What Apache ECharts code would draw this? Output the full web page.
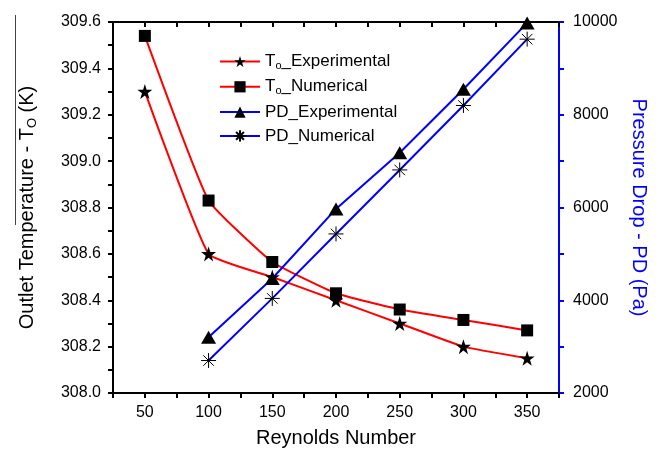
<!DOCTYPE html>
<html><head><meta charset="utf-8">
<script src="https://cdn.jsdelivr.net/npm/echarts@6/dist/echarts.min.js"></script>
<style>html,body{margin:0;padding:0;background:#fff}#c{width:665px;height:453px}</style>
</head><body><div id="c"></div>
<script>
var reynolds = [50, 100, 150, 200, 250, 300, 350];
var toExperimental = [309.30, 308.60, 308.50, 308.40, 308.30, 308.20, 308.15];
var toNumerical = [309.54, 308.83, 308.565, 308.43, 308.36, 308.315, 308.27];
var pdReynolds = [100, 150, 200, 250, 300, 350];
var pdExperimental = [3200, 4470, 5970, 7180, 8550, 9980];
var pdNumerical = [2700, 4040, 5430, 6810, 8200, 9630];
var leftTicks = [308.0, 308.2, 308.4, 308.6, 308.8, 309.0, 309.2, 309.4, 309.6];
var rightTicks = [2000, 4000, 6000, 8000, 10000];
var xLabels = [50, 100, 150, 200, 250, 300, 350];

function pairs(xs, ys){ return xs.map(function(x,i){ return [x, ys[i]]; }); }

var starPath = 'path://M50,0L61.2,34.5L97.6,34.5L68.2,55.9L79.4,90.5L50,69.1L20.6,90.5L31.8,55.9L2.4,34.5L38.8,34.5Z';
var asteriskPath = 'path://M0,-1L0,1M-1,0L1,0M-0.7,-0.7L0.7,0.7M-0.7,0.7L0.7,-0.7';
var FONT = 'Liberation Sans';

var chart = echarts.init(document.getElementById('c'), null, {renderer:'canvas'});
var subRich = {
  a: {fontFamily: FONT, fontSize: 20, color: '#000'},
  s: {fontFamily: FONT, fontSize: 13, color: '#000', padding: [10,0,0,0]}
};
chart.setOption({
  animation: false,
  backgroundColor: '#fff',
  grid: {left: 113, right: 106, top: 22, bottom: 58, containLabel: false},
  legend: {
    orient: 'vertical', left: 219, top: 53, padding: 0,
    itemWidth: 40, itemHeight: 14, itemGap: 6.8,
    textStyle: {fontFamily: FONT, fontSize: 17, color: '#000',
      rich: {t: {fontFamily: FONT, fontSize: 17, color: '#000'},
             s: {fontFamily: FONT, fontSize: 11, color: '#000', padding: [9,0,0,0]}}},
    formatter: function(n){
      if (n === 'To_Experimental') return '{t|T}{s|o}{t|_Experimental}';
      if (n === 'To_Numerical') return '{t|T}{s|o}{t|_Numerical}';
      return n;
    },
    data: ['To_Experimental', 'To_Numerical', 'PD_Experimental', 'PD_Numerical']
  },
  xAxis: [{
    type: 'value', min: 25, max: 375, interval: 25, position: 'bottom',
    name: 'Reynolds Number', nameLocation: 'middle', nameGap: 35,
    nameTextStyle: {fontFamily: FONT, fontSize: 20, color: '#000'},
    axisLine: {show: true, onZero: false, lineStyle: {color: '#000', width: 2}},
    axisTick: {show: true, inside: false, length: 5, lineStyle: {color: '#000', width: 2}},
    axisLabel: {fontFamily: FONT, fontSize: 16, color: '#000', margin: 12,
      formatter: function(v){ return xLabels.indexOf(v) >= 0 ? String(v) : ''; }},
    splitLine: {show: false}
  }, {
    type: 'value', min: 25, max: 375, interval: 25, position: 'top',
    axisLine: {show: true, onZero: false, lineStyle: {color: '#000', width: 2}},
    axisTick: {show: true, inside: true, length: 5, lineStyle: {color: '#000', width: 2}},
    axisLabel: {show: false}, splitLine: {show: false}
  }],
  yAxis: [{
    type: 'value', min: 308.0, max: 309.6, interval: 0.2, position: 'left',
    name: '{a|Outlet Temperature - T}{s|O}{a| (K)}', nameLocation: 'middle', nameGap: 74,
    nameTextStyle: {rich: subRich},
    axisLine: {show: true, onZero: false, lineStyle: {color: '#000', width: 2}},
    axisTick: {show: true, inside: false, length: 5, lineStyle: {color: '#000', width: 2}},
    minorTick: {show: true, splitNumber: 2, length: 5, lineStyle: {color: '#000', width: 2}},
    axisLabel: {fontFamily: FONT, fontSize: 16, color: '#000', margin: 12,
      formatter: function(v){ return v.toFixed(1); }},
    splitLine: {show: false}, minorSplitLine: {show: false}
  }, {
    type: 'value', min: 2000, max: 10000, interval: 2000, position: 'right',
    name: 'Pressure Drop - PD (Pa)', nameLocation: 'middle', nameGap: 64, nameRotate: -90,
    nameTextStyle: {fontFamily: FONT, fontSize: 20, color: '#0000ff'},
    axisLine: {show: true, onZero: false, lineStyle: {color: '#0000ff', width: 2}},
    axisTick: {show: true, inside: false, length: 5, lineStyle: {color: '#0000ff', width: 2}},
    minorTick: {show: true, splitNumber: 2, length: 5, lineStyle: {color: '#0000ff', width: 2}},
    axisLabel: {fontFamily: FONT, fontSize: 16, color: '#000', margin: 14,
      formatter: function(v){ return String(v); }},
    splitLine: {show: false}, minorSplitLine: {show: false}
  }],
  graphic: [{type: 'line', shape: {x1: 15.5, y1: 15, x2: 15.5, y2: 225}, style: {stroke: '#444', lineWidth: 1}}],
  series: [{
    name: 'To_Experimental', type: 'line', xAxisIndex: 0, yAxisIndex: 0,
    data: pairs(reynolds, toExperimental), smooth: 0.12,
    symbol: starPath, symbolSize: 15,
    lineStyle: {color: '#ff0000', width: 2}, itemStyle: {color: '#000'}
  }, {
    name: 'To_Numerical', type: 'line', xAxisIndex: 0, yAxisIndex: 0,
    data: pairs(reynolds, toNumerical), smooth: 0.12,
    symbol: 'rect', symbolSize: 12,
    lineStyle: {color: '#ff0000', width: 2}, itemStyle: {color: '#000'}
  }, {
    name: 'PD_Experimental', type: 'line', xAxisIndex: 0, yAxisIndex: 1,
    data: pairs(pdReynolds, pdExperimental),
    symbol: 'triangle', symbolSize: [15, 13],
    lineStyle: {color: '#0000ff', width: 2}, itemStyle: {color: '#000'}
  }, {
    name: 'PD_Numerical', type: 'line', xAxisIndex: 0, yAxisIndex: 1,
    data: pairs(pdReynolds, pdNumerical),
    symbol: asteriskPath, symbolSize: 15,
    lineStyle: {color: '#0000ff', width: 2},
    itemStyle: {color: 'none', borderColor: '#000', borderWidth: 1}
  }]
});
</script></body></html>
